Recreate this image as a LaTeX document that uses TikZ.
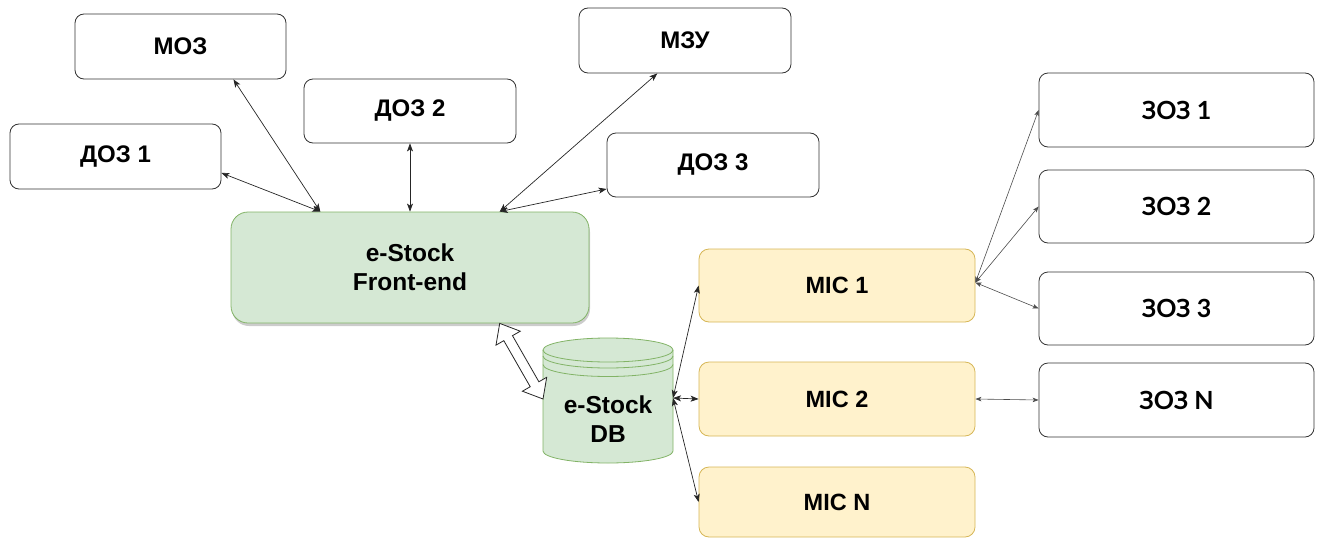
\documentclass[tikz,border=0pt]{standalone}
\usepackage{fontspec}
\setmainfont{Liberation Sans}
\newfontfamily\zozfont{Lato}
\usetikzlibrary{calc,arrows.meta,shadows}
\definecolor{gfill}{HTML}{D5E8D4}
\definecolor{gline}{HTML}{82B366}
\definecolor{yfill}{HTML}{FFF2CC}
\definecolor{yline}{HTML}{D6B656}
\begin{document}
\begin{tikzpicture}[x=1pt,y=-1pt,
  wbox/.style={draw=black!80, fill=white, rounded corners=9pt, line width=0.8pt, inner sep=0pt, align=center,
    font=\bfseries\fontsize{24}{28}\selectfont},
  zbox/.style={wbox, font=\zozfont\bfseries\fontsize{25}{29}\selectfont},
  gbox/.style={draw=gline, fill=gfill, rounded corners=17pt, line width=0.8pt, inner sep=0pt, align=center,
    font=\bfseries\fontsize{24.5}{29}\selectfont,
    drop shadow={shadow xshift=1pt, shadow yshift=-3pt, opacity=0.2, fill=black}},
  ybox/.style={draw=yline, fill=yfill, rounded corners=10pt, line width=0.8pt, inner sep=0pt, align=center,
    font=\bfseries\fontsize{23.5}{28}\selectfont},
  con/.style={line width=0.7pt, black!85, {Stealth[length=8pt,width=6pt,inset=2pt]}-{Stealth[length=8pt,width=6pt,inset=2pt]}},
  cons/.style={line width=0.6pt, black!70, {Stealth[length=6pt,width=4.5pt,inset=1.5pt]}-{Stealth[length=6pt,width=4.5pt,inset=1.5pt]}},
  hollow/.style={draw=black!85, fill=white, line width=0.8pt, line join=miter},
  dbline/.style={draw=gline, line width=0.8pt}
]
\useasboundingbox (0,0) rectangle (1322,538);

% top boxes
\node[wbox, minimum width=211pt, minimum height=65pt] (moz) at (180.5,46.5) {МОЗ};
\node[wbox, minimum width=211pt, minimum height=65pt] (doz1) at (115.5,156.5) {ДОЗ 1};
\node[wbox, minimum width=212pt, minimum height=64pt] (doz2) at (410,111) {ДОЗ 2};
\node[wbox, minimum width=212pt, minimum height=65pt] (mzu) at (685,40.5) {МЗУ};
\node[wbox, minimum width=212pt, minimum height=64pt] (doz3) at (713,165) {ДОЗ 3};

% front-end
\node[gbox, minimum width=358pt, minimum height=111pt] (fe) at (410,267.5) {e-Stock\\Front-end};

% MIC boxes
\node[ybox, minimum width=276pt, minimum height=73pt] (mic1) at (837,285.5) {МІС 1};
\node[ybox, minimum width=276pt, minimum height=74pt] (mic2) at (837,399) {МІС 2};
\node[ybox, minimum width=276pt, minimum height=70pt] (micn) at (837,502) {МІС N};

% ZOZ boxes
\node[zbox, minimum width=275pt, minimum height=74pt] (zoz1) at (1176.5,110) {ЗОЗ 1};
\node[zbox, minimum width=275pt, minimum height=73pt] (zoz2) at (1176.5,206.5) {ЗОЗ 2};
\node[zbox, minimum width=275pt, minimum height=73pt] (zoz3) at (1176.5,308.5) {ЗОЗ 3};
\node[zbox, minimum width=275pt, minimum height=74pt] (zozn) at (1176.5,400) {ЗОЗ N};

% database cylinder
\draw[dbline, fill=gfill] (543,350) -- (543,451) arc[start angle=180, end angle=360, x radius=65pt, y radius=12pt]
  -- (673,350) arc[start angle=0, end angle=180, x radius=65pt, y radius=12pt] -- cycle;
\draw[dbline] (543,350) arc[start angle=180, end angle=360, x radius=65pt, y radius=12pt];
\draw[dbline] (543,356) arc[start angle=180, end angle=360, x radius=65pt, y radius=12pt];
\draw[dbline] (543,364.5) arc[start angle=180, end angle=360, x radius=65pt, y radius=12pt];
\node[align=center, font=\bfseries\fontsize{24.5}{29}\selectfont] (db) at (608,419) {e-Stock\\DB};
\coordinate (dbW) at (543,399);
\coordinate (dbE) at (673,398);

% connectors to front-end
\draw[con] ($(doz1.north east)!0.75!(doz1.south east)$) -- ($(fe.north west)!0.25!(fe.north east)$);
\draw[con] ($(moz.south west)!0.75!(moz.south east)$) -- ($(fe.north west)!0.25!(fe.north east)$);
\draw[con] (doz2.south) -- (fe.north);
\draw[con] ($(mzu.south west)!0.37!(mzu.south east)$) -- ($(fe.north west)!0.75!(fe.north east)$);
\draw[con] ($(doz3.north west)!0.87!(doz3.south west)$) -- ($(fe.north west)!0.75!(fe.north east)$);

% hollow double arrow between front-end and DB
\coordinate (ha) at ($(fe.south west)!0.75!(fe.south east)$);
\coordinate (hb) at (dbW);
\coordinate (h1) at ($(ha)!17pt!(hb)$);
\coordinate (h2) at ($(hb)!17pt!(ha)$);
\draw[hollow] (ha) -- ($(h1)!14pt!90:(hb)$) -- ($(h1)!5pt!90:(hb)$) -- ($(h2)!5pt!-90:(ha)$)
  -- ($(h2)!14pt!-90:(ha)$) -- (hb) -- ($(h2)!14pt!90:(ha)$) -- ($(h2)!5pt!90:(ha)$)
  -- ($(h1)!5pt!-90:(hb)$) -- ($(h1)!14pt!-90:(hb)$) -- cycle;

% DB to MIC
\draw[con] (dbE) -- (mic1.west);
\draw[con] (dbE) -- (mic2.west);
\draw[con] (dbE) -- (micn.west);

% MIC to ZOZ
\coordinate (m1e) at ($(mic1.north east)!0.46!(mic1.south east)$);
\draw[cons] (m1e) -- (zoz1.west);
\draw[cons] (m1e) -- (zoz2.west);
\draw[cons] (m1e) -- (zoz3.west);
\draw[cons] (mic2.east) -- (zozn.west);
\end{tikzpicture}
\end{document}
